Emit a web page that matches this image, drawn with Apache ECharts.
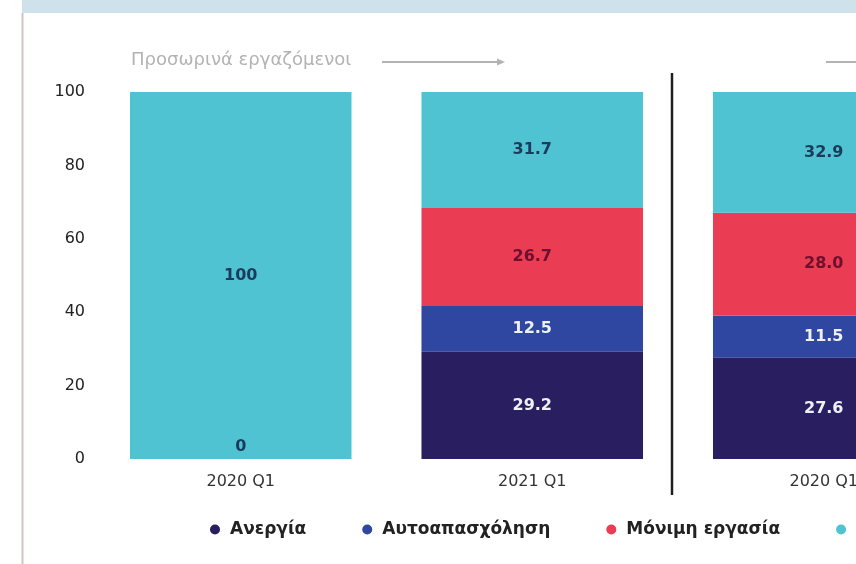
<!DOCTYPE html>
<html>
<head>
<meta charset="utf-8">
<script src="https://cdn.jsdelivr.net/npm/echarts@6/dist/echarts.min.js"></script>
<style>
html, body { margin: 0; padding: 0; background: #fff; }
#chart { width: 856px; height: 564px; }
</style>
</head>
<body>
<div id="chart"></div>
<script>
// categories (the chart is cropped on the right, the 3rd bar is partly out)
const categories = ['2020 Q1', '2021 Q1', '2020 Q1'];
const unemployment = [0, 29.2, 27.6];      // Ανεργία
const selfEmployed = [0, 12.5, 11.5];      // Αυτοαπασχόληση
const permanentJob = [0, 26.7, 28.0];      // Μόνιμη εργασία
const temporaryJob = [100, 31.7, 32.9];    // Προσωρινή εργασία
const yTicks = [0, 20, 40, 60, 80, 100];

const FONT = 'DejaVu Sans';

const fmt = (v) => (v === 0 || v === 100 ? String(v) : v.toFixed(1));

function barSeries(name, data, color, labelColor, z) {
  return {
    name: name,
    type: 'bar',
    stack: 'total',
    barWidth: '76%',
    data: data,
    itemStyle: { color: color },
    label: {
      show: true,
      position: 'inside',
      color: labelColor,
      fontFamily: FONT,
      fontWeight: 'bold',
      fontSize: 16,
      formatter: (p) => (p.value === 0 && z === 2 ? '' : fmt(p.value))
    },
    z: z
  };
}

const option = {
  animation: false,
  // the plot runs past the right edge of the picture (cropped)
  grid: { left: 95, width: 874.5, top: 92, bottom: 105, outerBoundsMode: 'none', containLabel: false },
  xAxis: {
    type: 'category',
    data: categories,
    axisLine: { show: false },
    axisTick: { show: false },
    axisLabel: { color: '#333', fontFamily: FONT, fontSize: 16, margin: 15 }
  },
  yAxis: {
    type: 'value',
    min: yTicks[0],
    max: yTicks[yTicks.length - 1],
    interval: 20,
    axisLine: { show: false },
    axisTick: { show: false },
    splitLine: { show: false },
    axisLabel: { color: '#222', fontFamily: FONT, fontSize: 16, margin: 10 }
  },
  legend: {
    left: 205,
    top: 516,
    width: 1200,
    icon: 'circle',
    itemWidth: 10,
    itemHeight: 10,
    itemGap: 56,
    textStyle: { color: '#222', fontFamily: FONT, fontWeight: 'bold', fontSize: 17, padding: [0, 0, 0, 5] },
    data: ['Ανεργία', 'Αυτοαπασχόληση', 'Μόνιμη εργασία', 'Προσωρινή εργασία']
  },
  series: [
    barSeries('Ανεργία', unemployment, '#291e60', '#eef0f8', 3),
    barSeries('Αυτοαπασχόληση', selfEmployed, '#2f47a0', '#eef0f8', 2),
    barSeries('Μόνιμη εργασία', permanentJob, '#ea3c53', '#6e0f2e', 2),
    barSeries('Προσωρινή εργασία', temporaryJob, '#50c3d2', '#1b3b5c', 2)
  ]
};

// the zero of the first bar sits at its foot, dark on the cyan bar
option.series[0].data = unemployment.map((v) => (v === 0
  ? { value: v, label: { position: 'insideBottom', distance: 4, color: '#1b3b5c' } }
  : v));

const chart = echarts.init(document.getElementById('chart'));
chart.setOption(option);

// separator between the two groups of bars
const c1 = chart.convertToPixel({ xAxisIndex: 0 }, 1);
const c2 = chart.convertToPixel({ xAxisIndex: 0 }, 2);
const sepX = Math.round(c1 + (c2 - c1) * 0.48);

chart.setOption({
  graphic: [
    { type: 'rect', shape: { x: 22, y: 0, width: 834, height: 13 }, style: { fill: '#cfe1ea' }, silent: true },
    { type: 'line', shape: { x1: 22.5, y1: 13, x2: 22.5, y2: 564 }, style: { stroke: '#cbc6c2', lineWidth: 2 }, silent: true },
    { type: 'line', shape: { x1: sepX, y1: 73, x2: sepX, y2: 495 }, style: { stroke: '#1e1e24', lineWidth: 2.5 }, silent: true },
    {
      type: 'text', left: 131, top: 51,
      style: { text: 'Προσωρινά εργαζόμενοι', fill: '#b3b3b3', font: '18px "DejaVu Sans"' },
      silent: true
    },
    { type: 'line', shape: { x1: 382, y1: 62, x2: 501, y2: 62 }, style: { stroke: '#b3b3b3', lineWidth: 2 }, silent: true },
    { type: 'polygon', shape: { points: [[497, 58.5], [505, 62], [497, 65.5]] }, style: { fill: '#b3b3b3' }, silent: true },
    { type: 'line', shape: { x1: 826, y1: 62, x2: 856, y2: 62 }, style: { stroke: '#b3b3b3', lineWidth: 2 }, silent: true }
  ]
});
</script>
</body>
</html>
